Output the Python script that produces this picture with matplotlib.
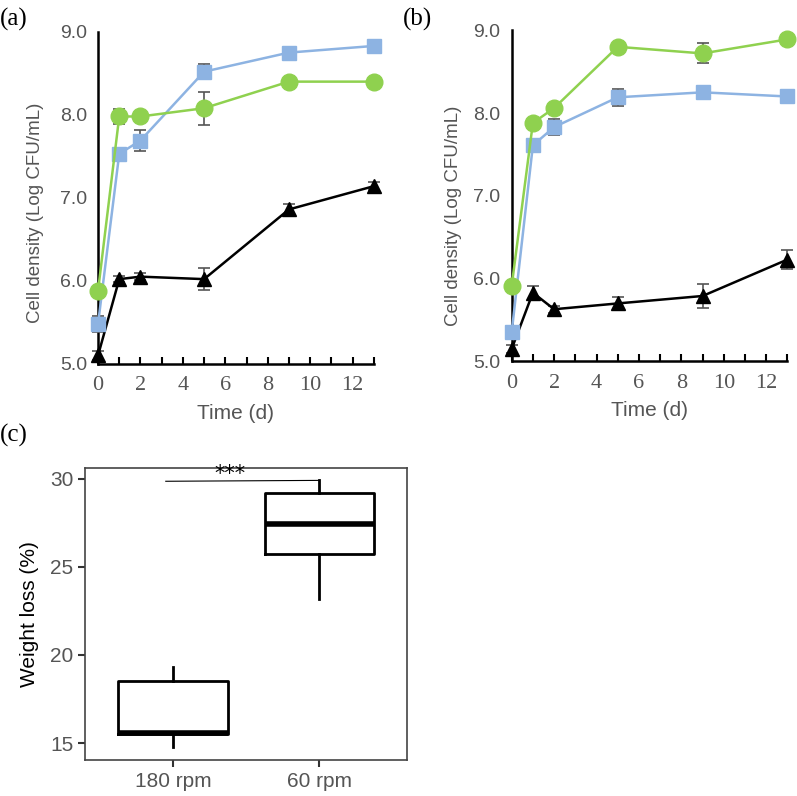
import numpy as np
import matplotlib.pyplot as plt

# sampling days
days = [0, 1, 2, 5, 9, 13]

# panel (a)
a_blue = [5.48, 7.53, 7.69, 8.52, 8.75, 8.83]
a_blue_err = [0.10, 0.04, 0.13, 0.09, 0.03, 0.03]
a_green = [5.88, 7.98, 7.98, 8.08, 8.40, 8.40]
a_green_err = [0.03, 0.09, 0.03, 0.20, 0.02, 0.02]
a_black = [5.10, 6.02, 6.05, 6.02, 6.86, 7.14]
a_black_err = [0.05, 0.04, 0.04, 0.13, 0.07, 0.05]

# panel (b)
b_blue = [5.35, 7.61, 7.83, 8.19, 8.25, 8.20]
b_blue_err = [0.05, 0.08, 0.10, 0.10, 0.08, 0.03]
b_green = [5.91, 7.88, 8.06, 8.80, 8.72, 8.89]
b_green_err = [0.03, 0.03, 0.03, 0.02, 0.12, 0.02]
b_black = [5.15, 5.83, 5.63, 5.70, 5.79, 6.23]
b_black_err = [0.05, 0.08, 0.04, 0.08, 0.15, 0.12]

# panel (c) box stats: whislo, q1, med, q3, whishi
groups = ['180 rpm', '60 rpm']
whislo = [14.8, 23.2]
q1 = [15.5, 25.7]
med = [15.6, 27.4]
q3 = [18.5, 29.2]
whishi = [19.3, 29.9]

BLUE = '#8db3e2'
GREEN = '#8fd14f'
GRAY = '#555555'
sans = 'Liberation Sans'
serif = 'Liberation Serif'


def line_panel(ax, blue, blue_err, green, green_err, black, black_err, label_xy):
    kw = dict(elinewidth=1.2, ecolor='#555555', capsize=4, capthick=1.2, lw=1.8, zorder=3)
    ax.errorbar(days, black, yerr=black_err, color='black', marker='^', ms=10, **kw)
    ax.errorbar(days, blue, yerr=blue_err, color=BLUE, marker='s', ms=10, **kw)
    ax.errorbar(days, green, yerr=green_err, color=GREEN, marker='o', ms=12, **kw)
    ax.set_xlim(0, 13)
    ax.set_ylim(5.0, 9.0)
    for s in ['top', 'right']:
        ax.spines[s].set_visible(False)
    for s in ['left', 'bottom']:
        ax.spines[s].set_linewidth(1.8)
    ax.set_xticks(np.arange(0, 14, 2))
    ax.set_xticks(np.arange(0, 14, 1), minor=True)
    ax.tick_params(axis='x', which='both', direction='in', length=5, width=1.5, pad=9)
    ax.set_xticklabels([str(v) for v in range(0, 14, 2)], fontfamily=serif, fontsize=16, color=GRAY)
    ax.set_yticks([5.0, 6.0, 7.0, 8.0, 9.0])
    ax.set_yticklabels(['5.0', '6.0', '7.0', '8.0', '9.0'], fontfamily=sans, fontsize=14, color=GRAY)
    ax.tick_params(axis='y', length=0, pad=8)
    ax.set_yticks([9.0], minor=True)
    ax.tick_params(axis='y', which='minor', direction='in', length=5, width=1.5)
    ax.set_xlabel('Time (d)', fontfamily=sans, fontsize=15, color=GRAY, labelpad=6)
    ax.set_ylabel('Cell density (Log CFU/mL)', fontfamily=sans, fontsize=13.5, color=GRAY)
    ax.yaxis.set_label_coords(*label_xy)
    for c in ax.get_children():
        c.set_clip_on(False)


fig = plt.figure(figsize=(7.97, 7.96), dpi=100)

ax_a = fig.add_axes([0.123, 0.543, 0.346, 0.417])
line_panel(ax_a, a_blue, a_blue_err, a_green, a_green_err, a_black, a_black_err, (-0.195, 0.455))
fig.text(0.0, 0.99, '(a)', fontfamily=serif, fontsize=18, va='top')

ax_b = fig.add_axes([0.642, 0.546, 0.346, 0.416])
line_panel(ax_b, b_blue, b_blue_err, b_green, b_green_err, b_black, b_black_err, (-0.181, 0.44))
fig.text(0.505, 0.99, '(b)', fontfamily=serif, fontsize=18, va='top')

# panel (c) boxplot
ax_c = fig.add_axes([0.107, 0.045, 0.404, 0.367])
stats = []
for i, g in enumerate(groups):
    stats.append(dict(label=g, whislo=whislo[i], q1=q1[i], med=med[i], q3=q3[i], whishi=whishi[i]))
ax_c.bxp(stats, positions=[1, 2], widths=0.75, showfliers=False, showcaps=False,
         boxprops=dict(color='black', lw=2.0),
         whiskerprops=dict(color='black', lw=2.0),
         medianprops=dict(color='black', lw=4.0))
ax_c.set_xlim(0.4, 2.6)
ax_c.set_ylim(14.03, 30.6)
ax_c.set_yticks([15, 20, 25, 30])
ax_c.set_xticks([1, 2])
ax_c.set_xticklabels(groups)
for s in ax_c.spines.values():
    s.set_color('#444444')
    s.set_linewidth(1.2)
ax_c.tick_params(axis='both', length=5, width=1.5, color='#333333', labelcolor=GRAY)
ax_c.tick_params(axis='y', labelsize=15)
ax_c.tick_params(axis='x', labelsize=15)
for t in ax_c.get_xticklabels() + ax_c.get_yticklabels():
    t.set_fontfamily(sans)
ax_c.set_ylabel('Weight loss (%)', fontfamily=sans, fontsize=15, color='black', labelpad=8)

# significance annotation
ax_c.plot([0.95, 2.0], [29.85, 29.9], color='black', lw=0.8)
ax_c.text(1.39, 29.72, '***', ha='center', va='bottom', fontsize=15, fontfamily='DejaVu Sans')
fig.text(0.0, 0.468, '(c)', fontfamily=serif, fontsize=18, va='top')

fig.savefig('out.png', dpi=100)
